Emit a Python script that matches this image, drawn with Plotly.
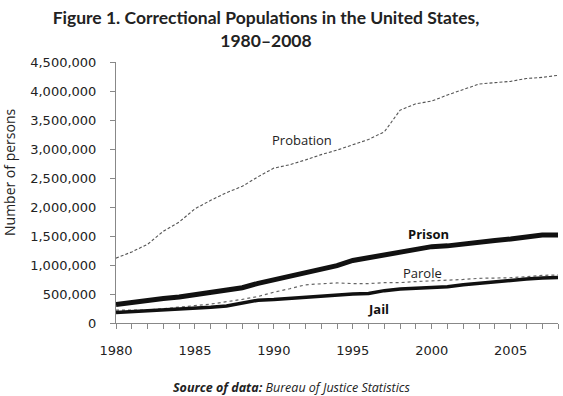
import plotly.graph_objects as go

years = list(range(1980, 2009))
probation = [1118097, 1225934, 1357264, 1582947, 1740948, 1968712, 2114621, 2247158, 2356483, 2522125,
             2670234, 2728472, 2811611, 2903061, 2981022, 3077861, 3164996, 3296513, 3670441, 3779922,
             3826209, 3931731, 4024067, 4120012, 4143792, 4166757, 4215361, 4234471, 4270917]
prison = [319598, 360029, 402914, 423898, 448264, 487593, 526436, 562814, 607766, 683367,
          743382, 792535, 850566, 909381, 990147, 1078542, 1127528, 1176564, 1224469, 1287172,
          1316333, 1330007, 1367547, 1390279, 1421345, 1448344, 1492973, 1517867, 1518559]
parole = [220438, 225539, 224604, 246440, 266992, 300203, 325638, 362192, 407977, 456803,
          531407, 590442, 658601, 676100, 690371, 679421, 679733, 694787, 696385, 714457,
          723898, 731147, 750934, 769925, 771852, 780616, 798202, 821177, 828169]
jail = [182288, 195085, 207853, 221815, 233018, 254986, 272736, 294092, 341893, 393303,
        403019, 424129, 441781, 455500, 479800, 499300, 510400, 557974, 584372, 596485,
        613534, 623628, 658228, 684431, 706242, 740770, 760216, 776573, 785556]

y_ticks = [0, 500000, 1000000, 1500000, 2000000, 2500000, 3000000, 3500000, 4000000, 4500000]
y_tick_labels = ["0", "500,000", "1,000,000", "1,500,000", "2,000,000", "2,500,000",
                 "3,000,000", "3,500,000", "4,000,000", "4,500,000"]
x_ticks = [1980, 1985, 1990, 1995, 2000, 2005]

label_font = "Open Sans"
title_font = "Lato"
tick_font = "DejaVu Sans"

fig = go.Figure()
fig.add_trace(go.Scatter(x=years, y=probation, mode="lines",
                         line=dict(color="#555555", width=1.1, dash="3px,2px")))
fig.add_trace(go.Scatter(x=years, y=parole, mode="lines",
                         line=dict(color="#666666", width=1.2, dash="dot")))
fig.add_trace(go.Scatter(x=years, y=jail, mode="lines",
                         line=dict(color="#111111", width=3.5)))
fig.add_trace(go.Scatter(x=years, y=prison, mode="lines",
                         line=dict(color="#111111", width=5)))

annotations = [
    dict(x=1991.8, y=3155000, text="Probation", font=dict(family=label_font, size=13, color="#222")),
    dict(x=1999.8, y=1534000, text="<b>Prison</b>", font=dict(family=label_font, size=13, color="#111")),
    dict(x=1999.4, y=862000, text="Parole", font=dict(family=label_font, size=13, color="#222")),
    dict(x=1996.6, y=241000, text="<b>Jail</b>", font=dict(family=label_font, size=13, color="#111")),
]
for a in annotations:
    a.update(xref="x", yref="y", showarrow=False, xanchor="center", yanchor="middle")

annotations.append(dict(xref="paper", yref="paper", x=(9 - 116) / 442, y=(323 - 173) / 261,
                        text="Number of persons", textangle=-90, showarrow=False,
                        xanchor="center", yanchor="middle",
                        font=dict(family=label_font, size=14, color="#222")))
annotations.append(dict(xref="paper", yref="paper", x=(291 - 116) / 442, y=-(388 - 323) / 261,
                        text="<b><i>Source of data:</i></b><i> Bureau of Justice Statistics</i>",
                        showarrow=False, xanchor="center", yanchor="middle",
                        font=dict(family=label_font, size=12.5, color="#222")))

fig.update_layout(
    width=563, height=396,
    margin=dict(l=116, r=5, t=62, b=73, autoexpand=False),
    paper_bgcolor="white", plot_bgcolor="white",
    showlegend=False,
    title=dict(text="<b>Figure 1. Correctional Populations in the United States,<br>1980–2008</b>",
               x=266 / 563, xanchor="center", y=1 - 24 / 396, yanchor="middle",
               font=dict(family=title_font, size=17.5, color="#222")),
    annotations=annotations,
)
fig.update_xaxes(range=[1980, 2008], tickvals=x_ticks, ticks="outside", ticklen=5, tickcolor="#888",
                 showline=True, linecolor="#888", linewidth=1, showgrid=False, zeroline=False,
                 ticklabelstandoff=10,
                 tickfont=dict(family=tick_font, size=13, color="#222"),
                 minor=dict(dtick=1, ticks="outside", ticklen=5, tickcolor="#888", showgrid=False))
fig.update_yaxes(range=[0, 4500000], tickvals=y_ticks, ticktext=y_tick_labels, ticks="outside",
                 ticklen=5, tickcolor="#888", showline=True, linecolor="#888", linewidth=1,
                 showgrid=False, zeroline=False, ticklabelstandoff=11,
                 tickfont=dict(family=tick_font, size=13, color="#222"))

fig.write_html("out.html", config={"displayModeBar": False},
               post_script="document.body.style.margin='0';")
